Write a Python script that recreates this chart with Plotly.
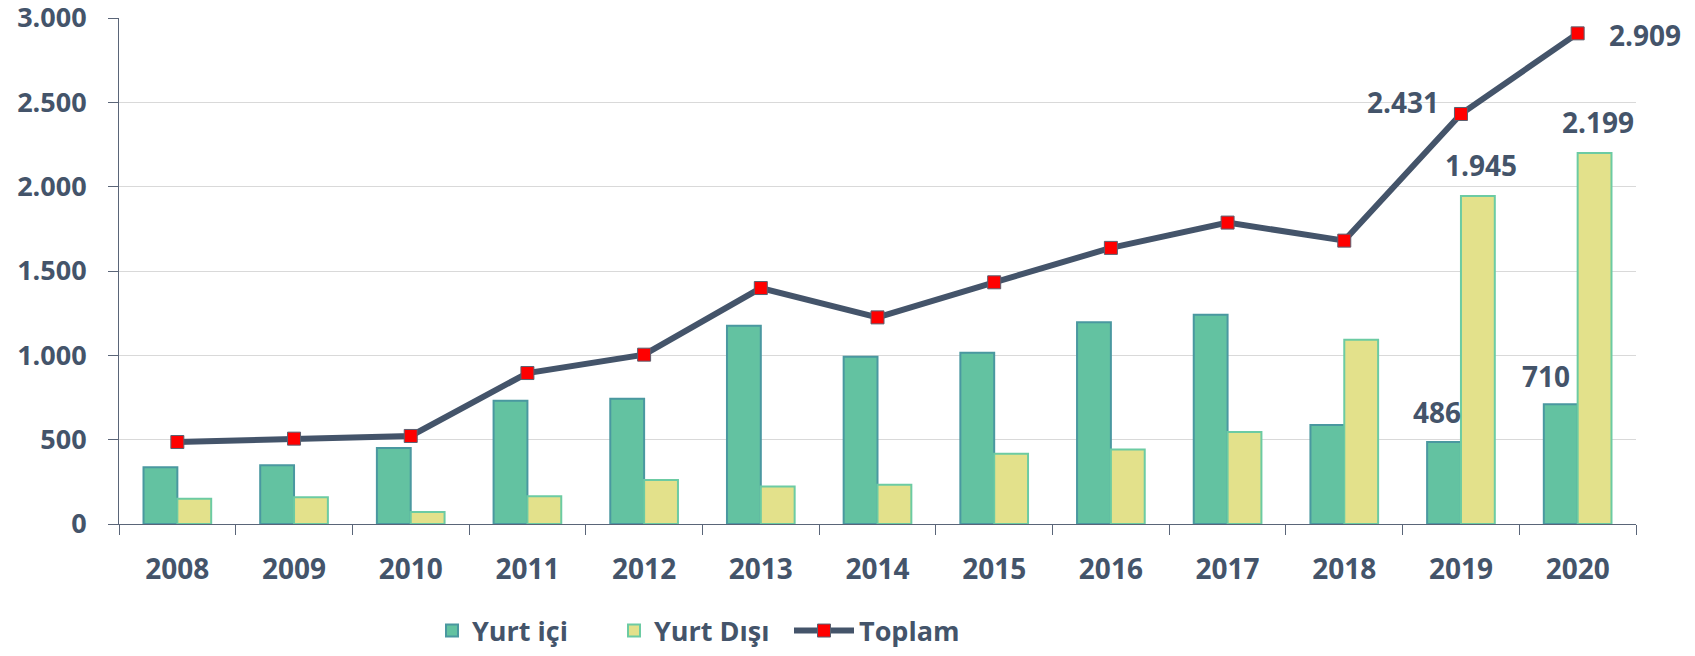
import plotly.graph_objects as go

years = ["2008", "2009", "2010", "2011", "2012", "2013", "2014",
         "2015", "2016", "2017", "2018", "2019", "2020"]
yurt_ici = [336, 348, 451, 731, 743, 1176, 992, 1016, 1196, 1241, 587, 486, 710]
yurt_disi = [150, 158, 71, 164, 261, 223, 233, 417, 441, 546, 1093, 1945, 2199]
toplam = [486, 506, 522, 895, 1004, 1399, 1225, 1433, 1637, 1787, 1680, 2431, 2909]
y_ticks = [0, 500, 1000, 1500, 2000, 2500, 3000]
y_tick_text = ["0", "500", "1.000", "1.500", "2.000", "2.500", "3.000"]


def fmt(v):
    return f"{v:,}".replace(",", ".")


TXT = "#44546A"
FONT = "Open Sans"
FS = 28
# page has an 8px body margin, so the figure is sized/offset to compensate
OFF = 8
W, H = 1695 - OFF, 656 - 2 * OFF

fig = go.Figure()
fig.add_trace(go.Bar(
    name="Yurt içi", x=years, y=yurt_ici, legend="legend",
    marker=dict(color="#63C2A1", line=dict(color="#4A98A0", width=2)),
))
fig.add_trace(go.Bar(
    name="Yurt Dışı", x=years, y=yurt_disi, legend="legend2",
    marker=dict(color="#E3E18B", line=dict(color="#6CCBA3", width=2)),
))
fig.add_trace(go.Scatter(
    name="Toplam", x=years, y=toplam, mode="lines+markers", legend="legend3",
    line=dict(color="#44546A", width=6),
    marker=dict(symbol="square", size=13, color="#FF0000",
                line=dict(color="#5A6070", width=1)),
))

annotations = []
for i, (dx_g, dy_g) in zip([11, 12], [(-24, 30), (-32, 28)]):
    annotations.append(dict(x=i, y=yurt_ici[i], text=fmt(yurt_ici[i]),
                            xref="x", yref="y", showarrow=False,
                            xshift=dx_g, yshift=dy_g, yanchor="middle"))
    annotations.append(dict(x=i, y=yurt_disi[i], text=fmt(yurt_disi[i]),
                            xref="x", yref="y", showarrow=False,
                            xshift=20, yshift=31, yanchor="middle"))
annotations.append(dict(x=11, y=toplam[11], text=fmt(toplam[11]),
                        xref="x", yref="y", showarrow=False, xanchor="right",
                        xshift=-20, yshift=12, yanchor="middle"))
annotations.append(dict(x=12, y=toplam[12], text=fmt(toplam[12]),
                        xref="x", yref="y", showarrow=False, xanchor="left",
                        xshift=29, yshift=-2, yanchor="middle"))
for a in annotations:
    a["font"] = dict(family=FONT, size=FS, color=TXT, weight="bold")


def leg(x_px, itemwidth=30):
    return dict(orientation="h", xref="container", yref="container",
                x=x_px / W, xanchor="left", y=1 - (637 - OFF - 6) / H,
                yanchor="middle",
                font=dict(family=FONT, size=27, color=TXT, weight="bold"),
                itemwidth=itemwidth, bgcolor="rgba(0,0,0,0)", borderwidth=0)


fig.update_layout(
    width=W, height=H,
    margin=dict(l=119 - OFF, r=59, t=18 - OFF, b=H - (524 - OFF),
                autoexpand=False),
    paper_bgcolor="white", plot_bgcolor="white",
    barmode="group", bargap=0.42, bargroupgap=0,
    font=dict(family=FONT, size=FS, color=TXT, weight="bold"),
    annotations=annotations,
    legend=leg(472 - OFF - 40),
    legend2=leg(654 - OFF - 40),
    legend3=leg(859 - OFF - 70, itemwidth=60),
    showlegend=True,
)
fig.update_xaxes(
    type="category", categoryorder="array", categoryarray=years,
    range=[-0.5, len(years) - 0.5], tickangle=0, automargin=False,
    showgrid=False, showline=True, linecolor="#5A6578",
    linewidth=1, ticks="outside", tickson="boundaries", ticklen=10,
    tickcolor="#5A6578", ticklabelstandoff=20, ticklabeloverflow="allow",
    tickfont=dict(family=FONT, size=FS, color=TXT, weight="bold"),
)
fig.update_yaxes(
    range=[0, 3000], tickvals=y_ticks, ticktext=y_tick_text, automargin=False,
    showgrid=True, gridcolor="#D9D9D9", gridwidth=1,
    showline=True, linecolor="#5A6578", linewidth=1,
    ticks="outside", ticklen=10, tickcolor="#5A6578", ticklabelstandoff=16,
    ticklabeloverflow="allow", zeroline=False,
    tickfont=dict(family=FONT, size=27, color=TXT, weight="bold"),
)

fig.write_html("out.html")
